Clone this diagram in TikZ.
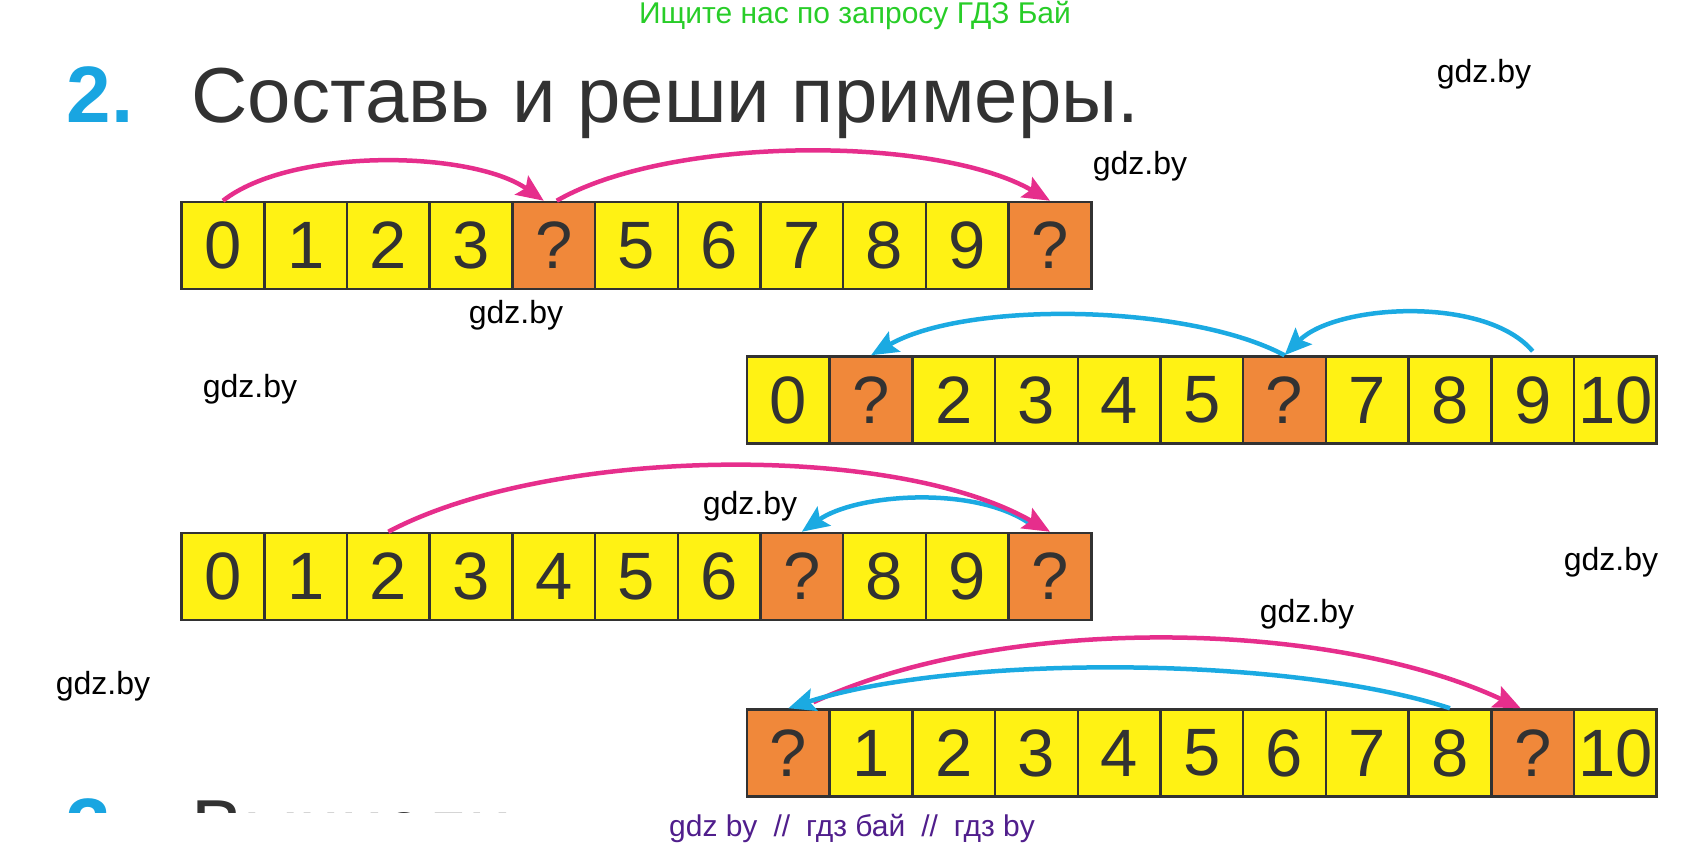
\documentclass[tikz,border=0pt]{standalone}
\usepackage{fontspec}
\setmainfont{Liberation Sans}
\usetikzlibrary{arrows.meta}

\definecolor{cellyellow}{RGB}{255,242,20}
\definecolor{holeorange}{RGB}{240,136,58}
\definecolor{inkgray}{RGB}{50,50,50}
\definecolor{jumppink}{RGB}{230,46,140}
\definecolor{jumpblue}{RGB}{27,170,226}
\definecolor{taskblue}{RGB}{25,165,225}
\definecolor{adgreen}{RGB}{40,205,40}
\definecolor{adpurple}{RGB}{80,30,140}

\tikzset{
  cell/.style={draw=inkgray, line width=2.5pt, fill=cellyellow, minimum width=82.7pt,
    minimum height=87pt, inner sep=0pt, text=inkgray, font=\fontsize{67}{67}\selectfont},
  hole/.style={cell, fill=holeorange},
  jump/.style={line width=4.5pt, -{Stealth[length=27pt,width=23pt,inset=5pt]}},
  wmark/.style={inner sep=0pt, font=\fontsize{32}{32}\selectfont}
}

\begin{document}
\begin{tikzpicture}[x=1pt, y=1pt]
  \useasboundingbox (0,0) rectangle (1705,850);

  \node[anchor=base, text=adgreen, font=\fontsize{30}{30}\selectfont] (ad) at (855,826) {Ищите нас по запросу ГДЗ Бай};
  \node[anchor=base west, text=taskblue, font=\fontsize{80}{80}\selectfont\bfseries] (num) at (63,727) {2.};
  \node[anchor=base west, text=inkgray, font=\fontsize{78}{78}\selectfont] (task) at (188,727) {Составь и реши примеры.};

  \foreach \lbl/\kind [count=\i from 0] in {0/cell,1/cell,2/cell,3/cell,?/hole,5/cell,6/cell,7/cell,8/cell,9/cell,?/hole}
    \node[\kind] (a\i) at ({222.95+82.7*\i},604.5) {\lbl};
  \foreach \lbl/\kind [count=\i from 0] in {0/cell,?/hole,2/cell,3/cell,4/cell,5/cell,?/hole,7/cell,8/cell,9/cell,10/cell}
    \node[\kind] (b\i) at ({788.35+82.7*\i},450) {\lbl};
  \foreach \lbl/\kind [count=\i from 0] in {0/cell,1/cell,2/cell,3/cell,4/cell,5/cell,6/cell,?/hole,8/cell,9/cell,?/hole}
    \node[\kind] (c\i) at ({222.95+82.7*\i},273.5) {\lbl};
  \foreach \lbl/\kind [count=\i from 0] in {?/hole,1/cell,2/cell,3/cell,4/cell,5/cell,6/cell,7/cell,8/cell,?/hole,10/cell}
    \node[\kind] (d\i) at ({788.35+82.7*\i},97) {\lbl};

  \draw[jump, jumppink] (a0.north) to[out=38, in=145, looseness=0.7] ([xshift=-10pt]a4.north);
  \draw[jump, jumppink] ([xshift=3pt]a4.north) to[out=30, in=150, looseness=0.68] (a10.north);

  \draw[jump, jumpblue] ([yshift=4pt]b9.north) to[out=130, in=45, looseness=0.75] (b6.north);
  \draw[jump, jumpblue] (b6.north) to[out=152, in=30, looseness=0.68] (b1.north);

  \draw[jump, jumpblue] ([xshift=-20pt,yshift=8pt]c10.north) to[out=145, in=35, looseness=0.75] (c7.north);
  \draw[jump, jumppink] (c2.north) to[out=28, in=150, looseness=0.70] (c10.north);

  \draw[jump, jumppink] ([xshift=25pt,yshift=6pt]d0.north) to[out=25, in=155, looseness=0.76] ([xshift=-12pt]d9.north);
  \draw[jump, jumpblue] (d8.north) to[out=162, in=18, looseness=0.67] (d0.north);

  \node[wmark] (w1) at (1484,776) {gdz.by};
  \node[wmark] (w2) at (1140,684) {gdz.by};
  \node[wmark] (w3) at (516,535) {gdz.by};
  \node[wmark] (w4) at (250,461) {gdz.by};
  \node[wmark] (w5) at (750,344) {gdz.by};
  \node[wmark] (w6) at (1611,288) {gdz.by};
  \node[wmark] (w7) at (1307,236) {gdz.by};
  \node[wmark] (w8) at (103,164) {gdz.by};

  \begin{scope}
    \clip (0,37) rectangle (1705,850);
    \node[anchor=base west, text=taskblue, font=\fontsize{80}{80}\selectfont\bfseries] (nextnum) at (63,-5) {3.};
    \node[anchor=base west, text=inkgray, font=\fontsize{78}{78}\selectfont] (nexttask) at (188,-5) {Вычисли};
  \end{scope}

  \node[anchor=base, text=adpurple, font=\fontsize{30}{30}\selectfont] (foot) at (852,13)
    {gdz by\hspace{16pt}//\hspace{16pt}гдз бай\hspace{16pt}//\hspace{16pt}гдз by};
\end{tikzpicture}
\end{document}
